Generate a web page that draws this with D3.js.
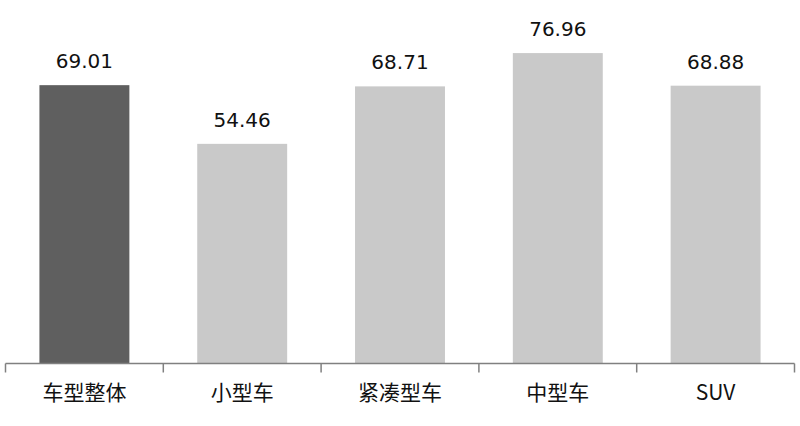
<!DOCTYPE html>
<html>
<head>
    <meta charset="utf-8">
    <title>车型</title>
    <script src="https://cdn.jsdelivr.net/npm/d3@7/dist/d3.min.js"></script>
    <style>
        body { margin: 0; background: #fff; }
    </style>
</head>
<body>
    <svg width="800" height="426" id="mainsvg"></svg>
    <script>
        const categories = ['车型整体', '小型车', '紧凑型车', '中型车', 'SUV'];
        const values = [69.01, 54.46, 68.71, 76.96, 68.88];
        const barColors = ['#5f5f5f', '#c9c9c9', '#c9c9c9', '#c9c9c9', '#c9c9c9'];

        const svg = d3.select('#mainsvg');

        const x = d3.scaleBand().domain(categories).range([5.5, 794.5]).paddingInner(0.43).paddingOuter(0.215);
        const y = d3.scaleLinear().domain([0, 90]).range([363.5, 0.5]);

        // bars
        svg.selectAll('rect.bar')
            .data(values)
            .enter().append('rect')
            .attr('class', 'bar')
            .attr('x', (d, i) => x(categories[i]))
            .attr('width', x.bandwidth())
            .attr('y', d => y(d))
            .attr('height', d => y(0) - y(d))
            .attr('fill', (d, i) => barColors[i]);

        // value labels
        svg.selectAll('text.val')
            .data(values)
            .enter().append('text')
            .attr('class', 'val')
            .attr('x', (d, i) => x(categories[i]) + x.bandwidth() / 2)
            .attr('y', d => y(d) - 17)
            .attr('text-anchor', 'middle')
            .attr('font-family', '"DejaVu Sans", sans-serif')
            .attr('font-size', 20)
            .attr('fill', '#111')
            .text(d => d.toFixed(2));

        // x axis with ticks at band boundaries
        const axisG = svg.append('g').attr('transform', `translate(0, ${y(0)})`);
        const step = x.step();
        const edges = d3.range(categories.length + 1).map(i => 5.5 + i * step);
        axisG.append('line')
            .attr('x1', edges[0]).attr('x2', edges[edges.length - 1])
            .attr('y1', 0).attr('y2', 0)
            .attr('stroke', '#808080').attr('stroke-width', 1.5);
        axisG.selectAll('line.tick')
            .data(edges)
            .enter().append('line')
            .attr('class', 'tick')
            .attr('x1', d => d).attr('x2', d => d)
            .attr('y1', 0).attr('y2', 9)
            .attr('stroke', '#808080').attr('stroke-width', 1.5);

        axisG.selectAll('text.cat')
            .data(categories)
            .enter().append('text')
            .attr('class', 'cat')
            .attr('x', d => x(d) + x.bandwidth() / 2)
            .attr('y', 36)
            .attr('text-anchor', 'middle')
            .attr('font-family', '"Noto Sans CJK SC", sans-serif')
            .attr('font-size', 21)
            .attr('fill', '#111')
            .text(d => d);
    </script>
</body>
</html>
